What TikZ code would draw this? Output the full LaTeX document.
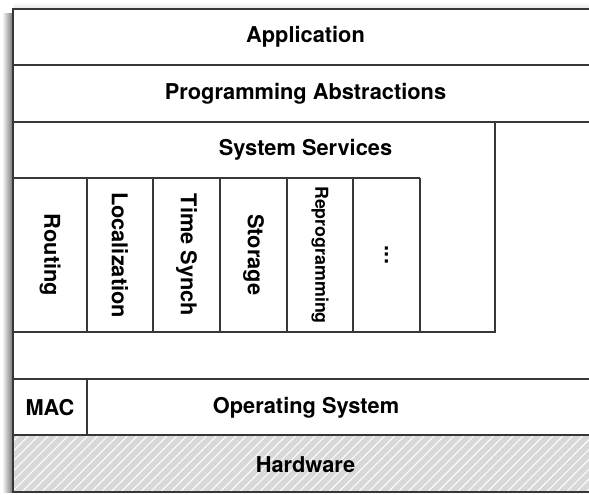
\documentclass[tikz,border=0pt]{standalone}
\usepackage{fontspec}
\setmainfont{TeX Gyre Heros}
\usetikzlibrary{patterns.meta}
\tikzset{
  lbl/.style={text=drawColor,inner sep=0pt,outer sep=0pt,font=\fontsize{10.9}{12}\selectfont\bfseries},
  vlbl/.style={lbl,rotate=-90},
  edge/.style={draw=lineColor,line width=0.75pt,line join=miter}
}
\begin{document}
\begin{tikzpicture}[x=0.5pt,y=0.5pt]
\definecolor{fillColor}{RGB}{255,255,255}
\definecolor{drawColor}{RGB}{0,0,0}
\definecolor{lineColor}{RGB}{55,55,55}
\definecolor{hwColor}{RGB}{216,216,216}
\path[use as bounding box,fill=fillColor] (0,0) rectangle (589,494);
\begin{scope}
\path[clip] (0,0) rectangle (589,494);
% shadow
\shade[left color=white,right color=black!55] (2,2) rectangle (13,480);
\shade[bottom color=black!10,top color=white] (13,485) rectangle (600,492);

\path[fill=hwColor,postaction={pattern={Lines[angle=45,distance=3.5pt,line width=0.5pt]},pattern color=white}] (13,2) rectangle (600,59);

\path[edge] (13,2) rectangle (600,485);

\path[edge] (13,429) -- (600,429);

\path[edge] (13,372) -- (600,372);

\path[edge] (13,115) -- (600,115);

\path[edge] (13,59) -- (600,59);

\path[edge] (13,162) rectangle (495,372);

\path[edge] (13,316) -- (420,316);
\foreach \x in {87,153,220,287,353,420}
  \path[edge] (\x,162) -- (\x,316);

\path[edge] (87,59) -- (87,115);
\end{scope}
\begin{scope}
\node[lbl] (app) at (305.5,457) {Application};

\node[lbl] (progabs) at (305.5,400) {Programming Abstractions};

\node[lbl] (syssrv) at (305.5,344) {System Services};

\node[vlbl] (routing) at (50,239) {Routing};

\node[vlbl] (local) at (120,239) {Localization};

\node[vlbl] (tsync) at (186.5,239) {Time Synch};

\node[vlbl] (storage) at (253.5,239) {Storage};

\node[vlbl,font=\fontsize{8.9}{10}\selectfont\bfseries] (reprog) at (320,239) {Reprogramming};

\node[vlbl] (more) at (386.5,239) {...};

\node[lbl] (mac) at (50,86) {MAC};

\node[lbl] (os) at (306,86) {Operating System};

\node[lbl] (hw) at (305.5,29) {Hardware};
\end{scope}
\end{tikzpicture}
\end{document}
